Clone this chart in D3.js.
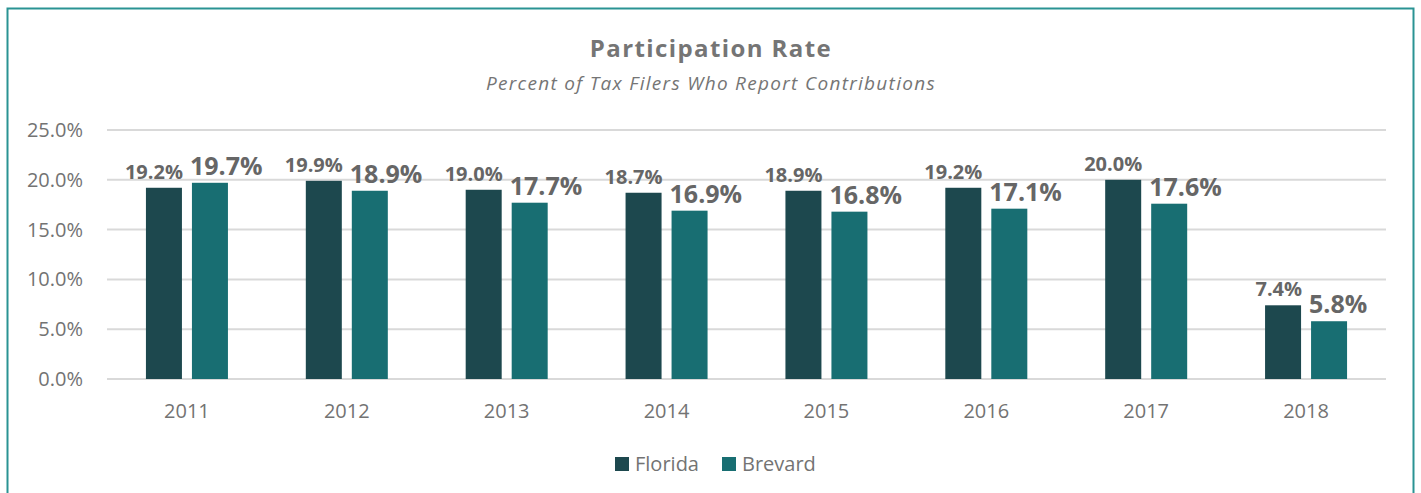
<!DOCTYPE html>
<html><head><meta charset="utf-8">
<script src="https://cdn.jsdelivr.net/npm/d3@7"></script>
<style>
html,body{margin:0;padding:0;background:#fff;}
svg{display:block;font-family:"Open Sans",sans-serif;}
</style></head>
<body><svg id="c" width="1421" height="493"></svg>
<script>
const years = ["2011","2012","2013","2014","2015","2016","2017","2018"];
const florida = [19.2, 19.9, 19.0, 18.7, 18.9, 19.2, 20.0, 7.4];
const brevard = [19.7, 18.9, 17.7, 16.9, 16.8, 17.1, 17.6, 5.8];
const seriesNames = ["Florida", "Brevard"];
const yTicks = [0, 5, 10, 15, 20, 25];
const colors = ["#1d484e", "#186e72"];

const svg = d3.select("#c");
// border
svg.append("rect").attr("x",7.5).attr("y",8.5).attr("width",1406).attr("height",500)
  .attr("fill","none").attr("stroke","#2a9393").attr("stroke-width",2);

const pLeft = 107, pRight = 1386, pTop = 130, pBottom = 379;
const x = d3.scaleBand().domain(years).range([pLeft, pRight]);
const y = d3.scaleLinear().domain([0, 25]).range([pBottom, pTop]);
const barW = 36, gap = 10;

svg.append("text").attr("x",711).attr("y",57).attr("text-anchor","middle")
  .attr("font-size",24).attr("font-weight","bold").attr("letter-spacing",1.4)
  .attr("fill","#757575").text("Participation Rate");
svg.append("text").attr("x",711).attr("y",90).attr("text-anchor","middle")
  .attr("font-size",19).attr("font-style","italic").attr("letter-spacing",1.3)
  .attr("fill","#757575").text("Percent of Tax Filers Who Report Contributions");

// grid
svg.append("g").selectAll("line").data(yTicks).join("line")
  .attr("x1",pLeft).attr("x2",pRight).attr("y1",d=>y(d)).attr("y2",d=>y(d))
  .attr("stroke","#d9d9d9").attr("stroke-width",2);

// y axis labels
const yAxis = d3.axisLeft(y).tickValues(yTicks).tickFormat(d=>d.toFixed(1)+"%").tickSize(0).tickPadding(24);
const gy = svg.append("g").attr("transform",`translate(${pLeft},0)`).call(yAxis);
gy.select(".domain").remove();
gy.selectAll("text").attr("font-size",20).attr("fill","#737373").attr("font-family","Open Sans");

// x axis labels
const xAxis = d3.axisBottom(x).tickSize(0).tickPadding(0);
const gx = svg.append("g").attr("transform",`translate(0,${pBottom})`).call(xAxis);
gx.select(".domain").remove();
gx.selectAll("text").attr("font-size",20).attr("fill","#737373").attr("font-family","Open Sans")
  .attr("dy",null).attr("y",39);

const data = [florida, brevard];
data.forEach((vals, si) => {
  const g = svg.append("g");
  const off = si === 0 ? -gap/2 - barW : gap/2;
  g.selectAll("rect").data(vals).join("rect")
    .attr("x",(d,i)=>x(years[i]) + x.bandwidth()/2 + off)
    .attr("y",d=>y(d)).attr("width",barW).attr("height",d=>pBottom - y(d))
    .attr("fill",colors[si]);
  g.selectAll("text").data(vals).join("text")
    .attr("x",(d,i)=>x(years[i]) + x.bandwidth()/2 + off + (si===0 ? barW + 1 : -2))
    .attr("y",d=>y(d) - (si===0 ? 9 : 8))
    .attr("text-anchor", si===0 ? "end" : "start")
    .attr("font-size", si===0 ? 20 : 25).attr("font-weight","bold")
    .attr("fill","#666666")
    .text(d=>d.toFixed(1)+"%");
});

// legend
const leg = svg.append("g");
const legX = [615, 722];
seriesNames.forEach((n,i)=>{
  leg.append("rect").attr("x",legX[i]).attr("y",457).attr("width",14).attr("height",14).attr("fill",colors[i]);
  leg.append("text").attr("x",legX[i]+20).attr("y",471).attr("font-size",20).attr("fill","#737373").text(n);
});
</script></body></html>
